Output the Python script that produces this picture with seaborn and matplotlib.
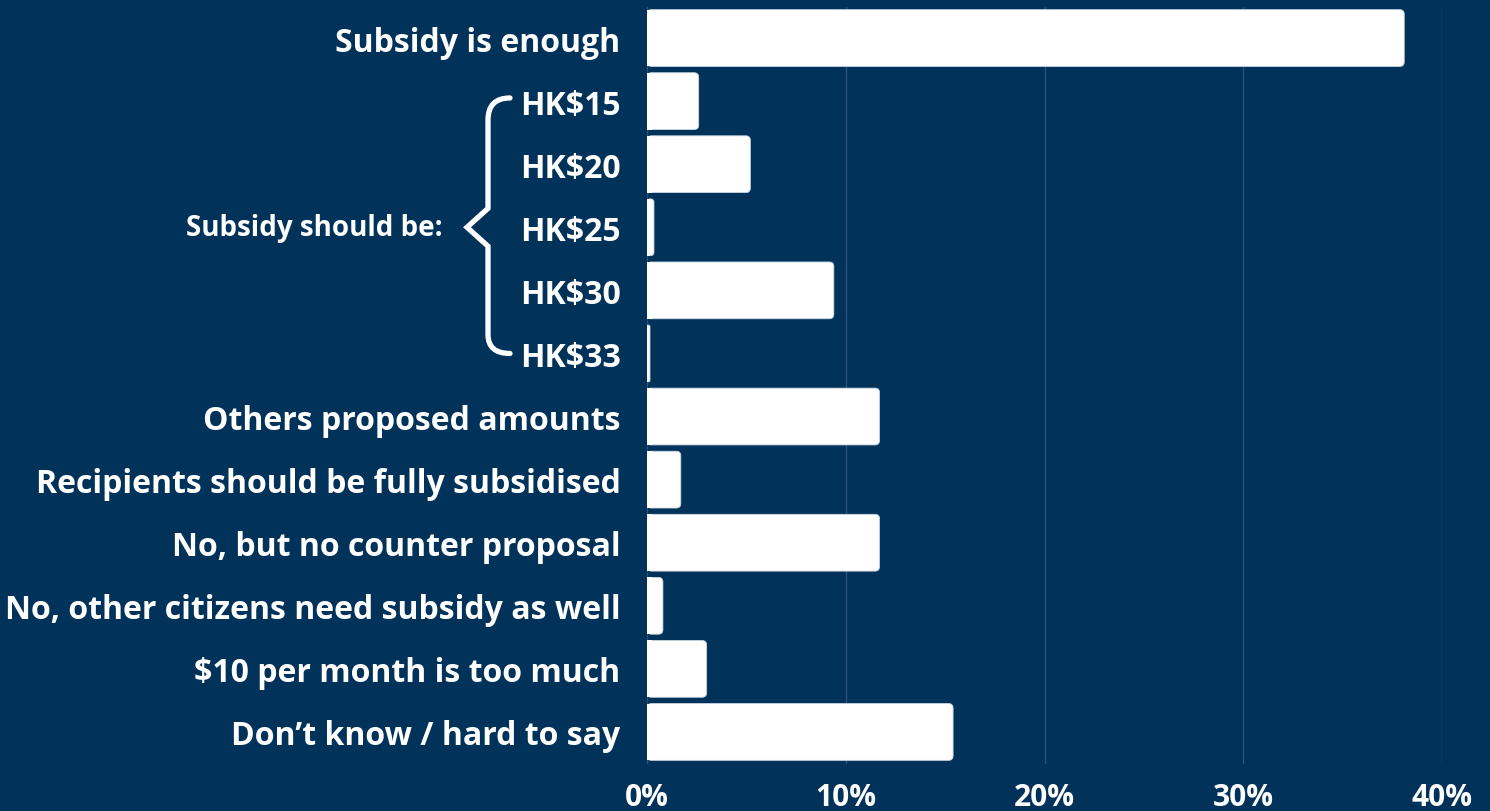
import matplotlib
matplotlib.use("Agg")
import matplotlib.pyplot as plt
import matplotlib.transforms as mtransforms
from matplotlib.patches import FancyBboxPatch, Rectangle, PathPatch
from matplotlib.path import Path
import seaborn as sns
import pandas as pd

categories = [
    "Subsidy is enough",
    "HK$15",
    "HK$20",
    "HK$25",
    "HK$30",
    "HK$33",
    "Others proposed amounts",
    "Recipients should be fully subsidised",
    "No, but no counter proposal",
    "No, other citizens need subsidy as well",
    "$10 per month is too much",
    "Don’t know / hard to say",
]
values = [38.1, 2.6, 5.2, 0.35, 9.4, 0.15, 11.7, 1.7, 11.7, 0.8, 3.0, 15.4]
x_ticks = [0, 10, 20, 30, 40]
x_tick_labels = ["0%", "10%", "20%", "30%", "40%"]
group_label = "Subsidy should be:"
group_rows = ["HK$15", "HK$33"]

BG = "#013259"
GRID = "#2b5178"

sns.set_style("white")
plt.rcParams["font.family"] = ["Open Sans", "DejaVu Sans"]
plt.rcParams["font.weight"] = "bold"

df = pd.DataFrame({"category": categories, "value": values})

W, H = 1490, 812
fig = plt.figure(figsize=(W / 100, H / 100), dpi=100, facecolor=BG)
ax = fig.add_axes([647 / W, (H - 764.5) / H, 795 / W, (764.5 - 7.5) / H])
ax.set_facecolor(BG)

sns.barplot(data=df, x="value", y="category", orient="h", color="white",
            width=0.9, saturation=1, ax=ax)

ax.set_xlim(0, 40)
ax.set_ylim(len(categories) - 0.5, -0.5)

# Replace the plain bars with bars rounded on the right end only
fig.canvas.draw()
px_per_x = ax.transData.transform((1, 0))[0] - ax.transData.transform((0, 0))[0]
px_per_y = abs(ax.transData.transform((0, 1))[1] - ax.transData.transform((0, 0))[1])
radius_px = 4.5
r_x = radius_px / px_per_x
aspect = px_per_x / px_per_y
for bar in list(ax.patches):
    x0, y0 = bar.get_x(), bar.get_y()
    w, h = bar.get_width(), bar.get_height()
    bar.set_visible(False)
    rs = min(r_x, w / 2)
    ax.add_patch(FancyBboxPatch((x0, y0), w, h,
                                boxstyle=f"round,pad=0,rounding_size={rs}",
                                mutation_aspect=aspect, facecolor="white",
                                edgecolor="#c9d6e2", linewidth=0.6, zorder=3))
    ax.add_patch(Rectangle((x0, y0), min(w, rs), h, facecolor="white",
                           edgecolor="none", zorder=3.1))

ax.set_xticks(x_ticks)
ax.set_xticklabels(x_tick_labels)
ax.xaxis.grid(True, color=GRID, linewidth=1)
ax.yaxis.grid(False)
ax.set_axisbelow(True)
for s in ax.spines.values():
    s.set_visible(False)
ax.set_xlabel("")
ax.set_ylabel("")
ax.tick_params(axis="y", length=0, pad=19, labelsize=23, labelcolor="white")
ax.tick_params(axis="x", length=0, pad=13, labelsize=21.5, labelcolor="white")
for lab in ax.get_yticklabels() + ax.get_xticklabels():
    lab.set_fontweight("bold")

# Curly brace grouping the proposed amounts
y_top = categories.index(group_rows[0])
y_bot = categories.index(group_rows[1])
y_mid = (y_top + y_bot) / 2
tr = mtransforms.blended_transform_factory(fig.transFigure, ax.transData)
fx = lambda px: px / W
xe, xs, xt = fx(510), fx(488), fx(467)
dy = 0.3
verts = [
    (xe, y_top - 0.05),
    (xs, y_top - 0.05), (xs, y_top + dy),
    (xs, y_mid - dy),
    (xt, y_mid),
    (xs, y_mid + dy),
    (xs, y_bot - dy),
    (xs, y_bot - 0.0), (xe, y_bot - 0.0),
]
codes = [Path.MOVETO, Path.CURVE3, Path.CURVE3, Path.LINETO, Path.LINETO,
         Path.LINETO, Path.LINETO, Path.CURVE3, Path.CURVE3]
ax.add_patch(PathPatch(Path(verts, codes), transform=tr, facecolor="none",
                       edgecolor="white", linewidth=3.8, capstyle="round",
                       joinstyle="miter", clip_on=False))
ax.text(fx(443), y_mid, group_label, transform=tr, ha="right", va="center",
        color="white", fontsize=20, fontweight="bold", clip_on=False)

fig.savefig("out.png", dpi=100, facecolor=BG)
